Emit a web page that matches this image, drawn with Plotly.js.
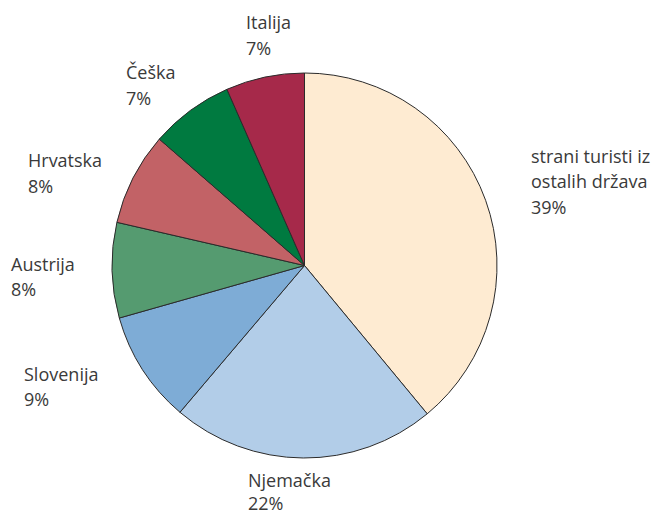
<!DOCTYPE html>
<html>
<head>
<meta charset="utf-8">
<script src="https://cdn.plot.ly/plotly-3.0.1.min.js"></script>
<style>html,body{margin:0;padding:0;background:#fff;}#chart{width:653px;height:516px;}</style>
</head>
<body>
<div id="chart"></div>
<script>
// Data (clockwise from 12 o'clock)
var categories = ["strani turisti iz ostalih država", "Njemačka", "Slovenija", "Austrija", "Hrvatska", "Češka", "Italija"];
var categoryLines = [["strani turisti iz", "ostalih država"], ["Njemačka"], ["Slovenija"], ["Austrija"], ["Hrvatska"], ["Češka"], ["Italija"]];
var values = [39.0, 22.2, 9.4, 8.0, 7.8, 7.0, 6.6];
var percentLabels = ["39%", "22%", "9%", "8%", "8%", "7%", "7%"];

// Styles
var colors = ["#FEEBD2", "#B2CDE8", "#7EACD6", "#559B70", "#C26266", "#007A40", "#A6294A"];
// label anchor: left x (px) and baselines (px) per line
var labelPos = [
  {x: 530, b: [162, 188, 213]},
  {x: 247, b: [486, 512]},
  {x: 23, b: [380, 405]},
  {x: 10, b: [270, 295]},
  {x: 27, b: [166, 192]},
  {x: 125, b: [78, 104]},
  {x: 245, b: [29, 55]}
];

var W = 653, H = 516;
var cx = 304.5, cy = 265.5, r = 192.5;

var trace = {
  type: "pie",
  labels: categories,
  values: values,
  sort: false,
  direction: "clockwise",
  rotation: 0,
  textinfo: "none",
  hoverinfo: "label+percent",
  marker: {colors: colors, line: {color: "#2b2b2b", width: 1}},
  domain: {x: [(cx - r) / W, (cx + r) / W], y: [1 - (cy + r) / H, 1 - (cy - r) / H]},
  showlegend: false
};

var annotations = [];
for (var i = 0; i < categories.length; i++) {
  var lines = categoryLines[i].concat([percentLabels[i]]);
  for (var j = 0; j < lines.length; j++) {
    var yc = labelPos[i].b[j] - 6.5;
    var ann = {
      xref: "paper", yref: "paper",
      x: labelPos[i].x / W,
      y: 1 - yc / H,
      xanchor: "left", yanchor: "middle",
      text: lines[j],
      showarrow: false,
      borderpad: 0,
      font: {family: "Open Sans, sans-serif", size: 18, color: "#3a3a3a"}
    };
    if (yc + 12 > H) { ann.y = 0; ann.yanchor = "bottom"; }
    annotations.push(ann);
  }
}

var layout = {
  width: W, height: H,
  margin: {l: 0, r: 0, t: 0, b: 0},
  paper_bgcolor: "#ffffff",
  annotations: annotations
};

Plotly.newPlot("chart", [trace], layout, {displayModeBar: false, staticPlot: true});
</script>
</body>
</html>
